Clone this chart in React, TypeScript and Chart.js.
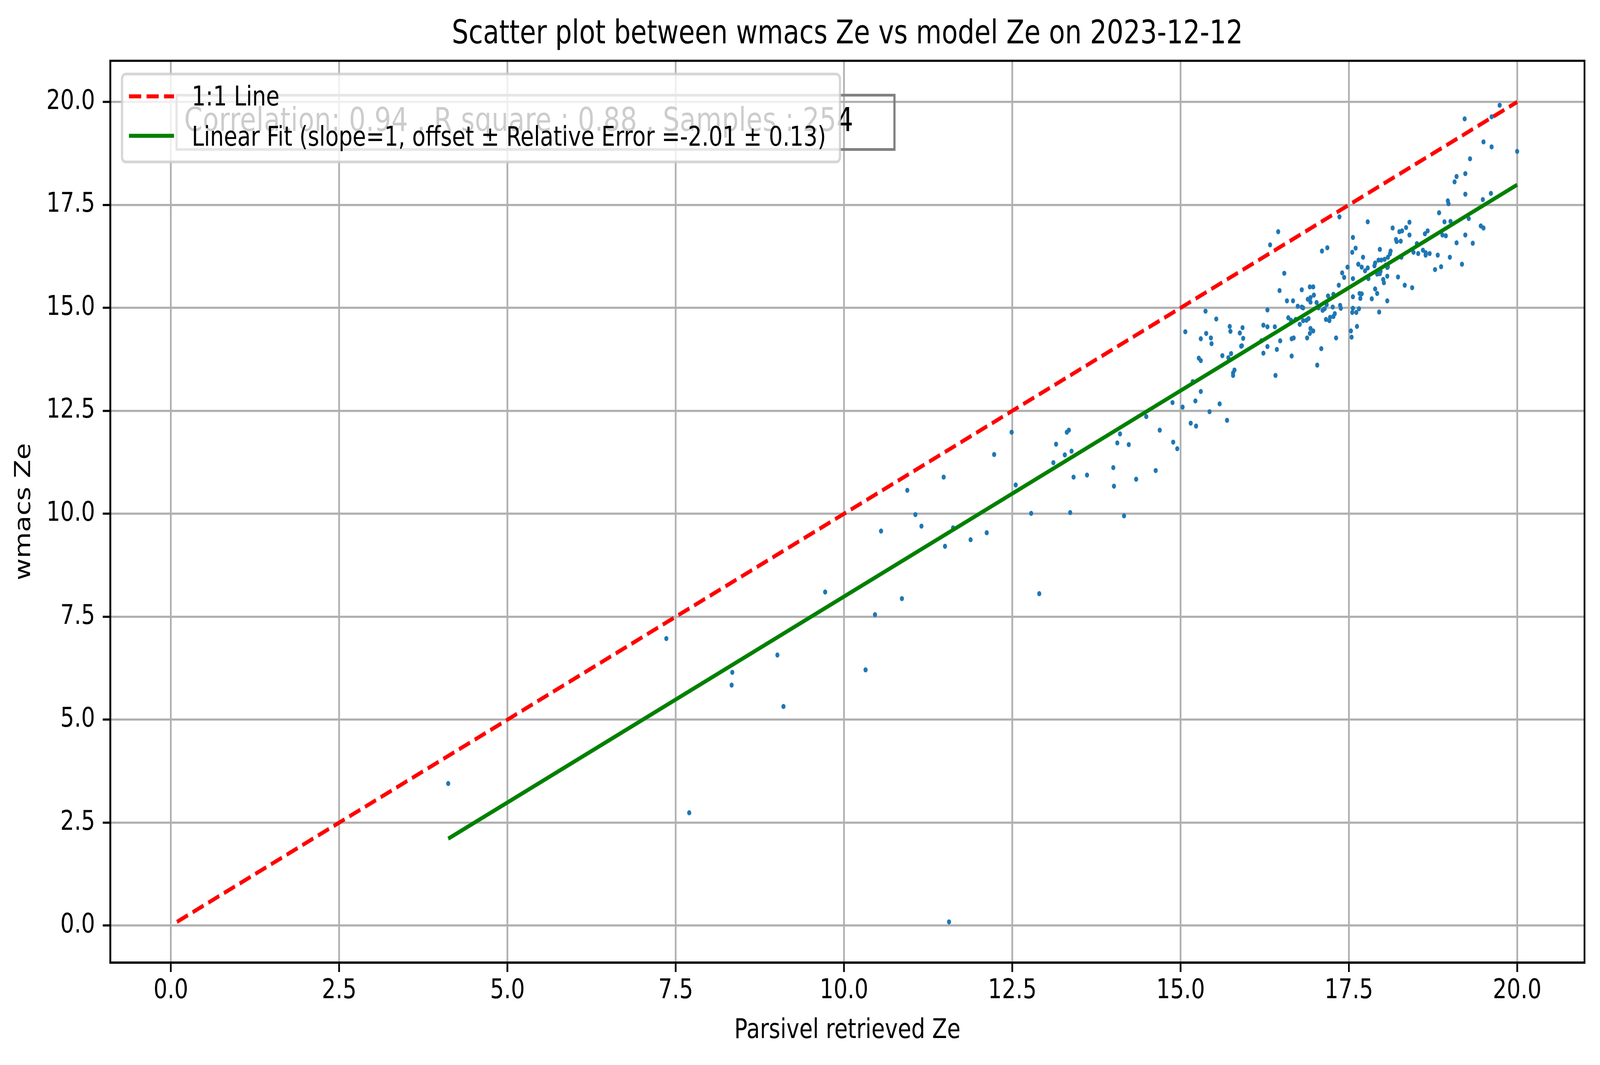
import { useEffect, useRef } from 'react';
import { Chart, registerables } from 'chart.js';

Chart.register(...registerables);

// Parsivel retrieved Ze (x) and wmacs Ze (y)
const parsivelZe = [
  17.36, 16.45, 16.33, 17.10, 17.18, 17.56, 17.55, 17.48, 17.40, 16.54,
  19.74, 19.22, 19.62, 19.50, 19.62, 20.00, 19.30, 19.23, 19.10, 19.07,
  19.23, 19.61, 19.49, 18.97, 18.98, 18.84, 18.92, 19.01, 19.28, 19.46,
  19.50, 19.23, 19.34, 19.10, 19.00, 19.18, 18.82, 18.87, 18.78, 17.78,
  17.60, 17.71, 17.64, 17.69, 17.74, 17.78, 17.96, 18.15, 18.25, 18.29,
  18.35, 18.40, 18.40, 18.20, 18.21, 18.27, 18.63, 18.67, 18.89, 18.94,
  18.51, 18.46, 18.53, 18.60, 18.64, 18.64, 18.70, 18.28, 18.12, 18.11,
  18.08, 18.03, 17.98, 17.94, 17.89, 17.88, 18.05, 18.08, 18.07, 17.97,
  17.96,
  17.92, 17.96, 18.07, 18.23, 18.33, 18.44, 17.79, 17.56, 18.01, 18.02,
  17.89, 17.92, 17.66, 17.69, 17.67, 17.56, 17.84, 18.07, 17.56, 17.65,
  17.55, 17.61, 17.95, 17.62, 17.53, 17.54,
  17.43, 17.35, 16.47, 16.80, 16.92, 16.97, 16.98, 16.93, 16.89, 16.93,
  17.02, 17.19, 17.27, 16.58, 16.67, 16.74, 16.80, 16.82, 17.05, 17.11,
  17.17, 17.14, 17.26, 17.37, 17.38, 16.29, 15.37, 15.53, 15.07, 15.38,
  15.30, 15.45, 15.46, 15.73, 15.74, 15.92, 15.88, 15.93, 15.90, 15.91,
  15.27, 15.30, 15.62, 15.71, 15.75, 15.80, 15.78, 15.78, 15.18, 15.30,
  15.22, 15.58, 15.03, 14.88, 15.43, 15.15, 15.23, 15.69, 14.89, 14.95,
  16.23, 16.29, 16.40, 16.20, 16.29, 16.23, 16.43, 16.48, 16.41, 16.60,
  16.64, 16.71, 16.77, 16.82, 16.87, 16.90, 16.93, 16.97, 16.92, 16.88,
  16.65, 16.68, 16.65, 17.09, 17.03, 17.31, 17.16, 17.21, 17.22, 17.27,
  17.29,
  12.49, 12.55, 12.78, 13.15, 13.31, 13.34, 13.38, 13.28, 13.11, 13.41,
  13.61, 13.36, 14.00, 14.01, 14.06, 14.10, 14.23, 14.16, 14.34, 14.49,
  14.69, 14.63,
  12.23, 11.48, 10.94, 11.06, 11.15, 10.55, 11.62, 11.50, 11.88, 12.12,
  9.72, 10.86, 10.46,
  4.12, 7.36, 7.70, 9.01, 8.34, 8.33, 9.10, 10.32, 11.56, 12.90,
];

const wmacsZe = [
  17.21, 16.85, 16.53, 16.38, 16.46, 16.71, 16.35, 15.99, 15.85, 15.84,
  19.92, 19.59, 19.64, 19.03, 18.91, 18.80, 18.62, 18.26, 18.19, 18.06,
  17.76, 17.78, 17.63, 17.60, 17.53, 17.31, 17.09, 17.10, 17.17, 16.99,
  16.94, 16.77, 16.57, 16.58, 16.23, 16.06, 16.28, 16.00, 15.93, 17.09,
  16.45, 16.23, 16.06, 15.99, 15.90, 15.97, 16.42, 16.94, 16.85, 16.87,
  16.95, 17.08, 16.77, 16.66, 16.61, 16.62, 16.80, 16.87, 16.77, 16.75,
  16.56, 16.35, 16.32, 16.40, 16.34, 16.28, 16.32, 16.23, 16.38, 16.31,
  16.23, 16.18, 16.16, 16.16, 16.09, 16.02, 16.04, 16.00, 15.98, 15.89,
  15.85,
  15.82, 15.83, 15.77, 15.75, 15.55, 15.49, 15.71, 15.71, 15.69, 15.61,
  15.46, 15.35, 15.35, 15.34, 15.23, 15.27, 15.22, 15.17, 14.99, 14.98,
  14.89, 14.89, 14.90, 14.55, 14.44, 14.29,
  15.74, 15.55, 15.42, 15.44, 15.51, 15.51, 15.31, 15.25, 15.21, 15.14,
  15.13, 15.29, 15.33, 15.17, 15.17, 15.04, 15.02, 15.00, 15.00, 14.94,
  15.08, 14.98, 15.02, 15.06, 14.99, 14.95, 14.92, 14.73, 14.42, 14.38,
  14.25, 14.27, 14.13, 14.55, 14.43, 14.52, 14.39, 14.26, 14.07, 14.08,
  13.78, 13.72, 13.84, 13.79, 13.89, 13.49, 13.42, 13.36, 13.21, 12.97,
  12.74, 12.67, 12.59, 12.70, 12.48, 12.20, 12.13, 12.27, 11.74, 11.58,
  14.58, 14.54, 14.54, 14.20, 14.06, 13.90, 13.99, 14.20, 13.36, 14.76,
  14.70, 14.72, 14.60, 14.69, 14.70, 14.74, 14.50, 14.44, 14.38, 14.27,
  14.25, 14.27, 13.83, 14.01, 13.61, 14.27, 14.72, 14.69, 14.77, 14.79,
  14.86,
  11.98, 10.70, 10.01, 11.69, 11.98, 12.03, 11.52, 11.43, 11.24, 10.89,
  10.94, 10.03, 11.12, 10.67, 11.72, 11.94, 11.68, 9.95, 10.84, 12.36,
  12.03, 11.05,
  11.44, 10.89, 10.57, 9.98, 9.70, 9.58, 9.66, 9.21, 9.37, 9.54,
  8.10, 7.94, 7.55,
  3.45, 6.97, 2.74, 6.57, 6.15, 5.84, 5.32, 6.21, 0.09, 8.06,
];

const oneToOneX = [0.09, 20.0];
const fitX = [4.12, 20.0];
const fitSlope = 1;
const fitOffset = -2.01;

const axisTicks = [0, 2.5, 5, 7.5, 10, 12.5, 15, 17.5, 20];
const axisMin = -0.9;
const axisMax = 21.0;

const titleText = 'Scatter plot between wmacs Ze vs model Ze on 2023-12-12';
const xTitle = 'Parsivel retrieved Ze';
const yTitle = 'wmacs Ze';
const statsText = 'Correlation: 0.94 , R square : 0.88 , Samples : 254';
const legendLabels = ['1:1 Line', 'Linear Fit (slope=1, offset \u00b1 Relative Error =-2.01 \u00b1 0.13)'];

const FONT = '"DejaVu Sans"';
const W = 5048;
const H = 2726;

function roundRectPath(ctx: CanvasRenderingContext2D, x: number, y: number, w: number, h: number, r: number) {
  ctx.beginPath();
  ctx.moveTo(x + r, y);
  ctx.arcTo(x + w, y, x + w, y + h, r);
  ctx.arcTo(x + w, y + h, x, y + h, r);
  ctx.arcTo(x, y + h, x, y, r);
  ctx.arcTo(x, y, x + w, y, r);
  ctx.closePath();
}

// spines, stats text box and legend, drawn over the plot like matplotlib does
const overlayPlugin = {
  id: 'overlay',
  afterDraw(chart: Chart) {
    const { ctx, chartArea: a } = chart;
    ctx.save();

    ctx.strokeStyle = '#000';
    ctx.lineWidth = 5.5;
    ctx.setLineDash([]);
    ctx.strokeRect(a.left, a.top, a.right - a.left, a.bottom - a.top);

    // stats box (no fill)
    ctx.strokeStyle = '#808080';
    ctx.lineWidth = 7;
    ctx.strokeRect(a.left + 209, a.top + 88, 2265, 139);
    ctx.fillStyle = '#000';
    ctx.font = `83px ${FONT}`;
    ctx.textBaseline = 'alphabetic';
    ctx.textAlign = 'left';
    (ctx as any).letterSpacing = '0.6px';
    ctx.fillText(statsText, a.left + 233, a.top + 179);
    (ctx as any).letterSpacing = '0px';

    // legend frame
    roundRectPath(ctx, a.left + 37, a.top + 34, 2265, 225, 12);
    ctx.fillStyle = 'rgba(255,255,255,0.8)';
    ctx.fill();
    ctx.strokeStyle = 'rgba(204,204,204,0.8)';
    ctx.lineWidth = 7;
    ctx.stroke();

    const hx0 = a.left + 59;
    const hx1 = a.left + 201;
    const rows = [a.top + 91, a.top + 192];
    const colors = ['#ff0000', '#008000'];
    const dashes = [[38.5, 16.7], []];
    ctx.lineWidth = 10.4;
    rows.forEach((y, i) => {
      ctx.strokeStyle = colors[i];
      ctx.setLineDash(dashes[i]);
      ctx.beginPath();
      ctx.moveTo(hx0, y);
      ctx.lineTo(hx1, y);
      ctx.stroke();
    });
    ctx.setLineDash([]);
    ctx.fillStyle = '#000';
    ctx.font = `69px ${FONT}`;
    ctx.fillText(legendLabels[0], a.left + 257, a.top + 114);
    ctx.fillText(legendLabels[1], a.left + 257, a.top + 217);

    ctx.restore();
  },
};

export default function App() {
  const canvasRef = useRef<HTMLCanvasElement>(null);

  useEffect(() => {
    document.body.style.margin = '0';
    document.body.style.overflow = 'hidden';
    if (!canvasRef.current) return;

    const points = parsivelZe.map((x, i) => ({ x, y: wmacsZe[i] }));
    const oneToOne = oneToOneX.map((x) => ({ x, y: x }));
    const fit = fitX.map((x) => ({ x, y: fitSlope * x + fitOffset }));

    const axisCommon = (title: string, pad: { top?: number; bottom?: number }, tickPad: number) => ({
      type: 'linear' as const,
      min: axisMin,
      max: axisMax,
      afterBuildTicks: (scale: any) => {
        scale.ticks = axisTicks.map((value) => ({ value }));
      },
      ticks: {
        autoSkip: false,
        maxRotation: 0,
        color: '#000',
        padding: tickPad,
        font: { family: FONT, size: 69 },
        callback: (v: any) => Number(v).toFixed(1),
      },
      grid: {
        color: '#b0b0b0',
        lineWidth: 5.5,
        tickColor: '#000',
        tickLength: 24,
        tickWidth: 5.5,
      },
      border: { display: true, color: '#000', width: 5.5 },
      title: {
        display: true,
        text: title,
        color: '#000',
        font: { family: FONT, size: 69 },
        padding: pad,
      },
    });

    const chart = new Chart(canvasRef.current, {
      type: 'scatter',
      data: {
        datasets: [
          {
            label: legendLabels[1],
            data: fit,
            showLine: true,
            borderColor: '#008000',
            borderWidth: 10.4,
            pointRadius: 0,
            order: 1,
          },
          {
            label: legendLabels[0],
            data: oneToOne,
            showLine: true,
            borderColor: '#ff0000',
            borderWidth: 10.4,
            borderDash: [38.5, 16.7],
            pointRadius: 0,
            order: 2,
          },
          {
            label: 'samples',
            data: points,
            backgroundColor: '#1f77b4',
            borderWidth: 0,
            pointRadius: 6.5,
            order: 3,
          },
        ],
      },
      options: {
        responsive: false,
        animation: false,
        devicePixelRatio: 1,
        events: [],
        layout: { padding: { left: 0, right: 49, top: 0, bottom: 0 } },
        plugins: {
          legend: { display: false },
          tooltip: { enabled: false },
          title: {
            display: true,
            text: titleText,
            color: '#000',
            fullSize: false,
            font: { family: FONT, size: 83, weight: 'normal' },
            padding: { top: 40, bottom: 16 },
          },
        },
        scales: {
          x: {
            ...axisCommon(xTitle, { top: 0, bottom: 46 }, 8),
            afterFit: (scale: any) => {
              scale.height = 262;
            },
          },
          y: {
            ...axisCommon(yTitle, { top: 36, bottom: 0 }, 24),
            afterFit: (scale: any) => {
              scale.width = 348;
            },
          },
        },
      },
      plugins: [overlayPlugin],
    });

    return () => {
      chart.destroy();
    };
  }, []);

  // the drawing buffer stays 5048x2726; CSS size follows the viewport so the whole figure is shown
  return (
    <div style={{ width: '100vw', height: '100vh', background: '#fff', overflow: 'hidden' }}>
      <canvas
        ref={canvasRef}
        width={W}
        height={H}
        style={{ display: 'block', width: '100vw', height: '100vh' }}
      />
    </div>
  );
}
